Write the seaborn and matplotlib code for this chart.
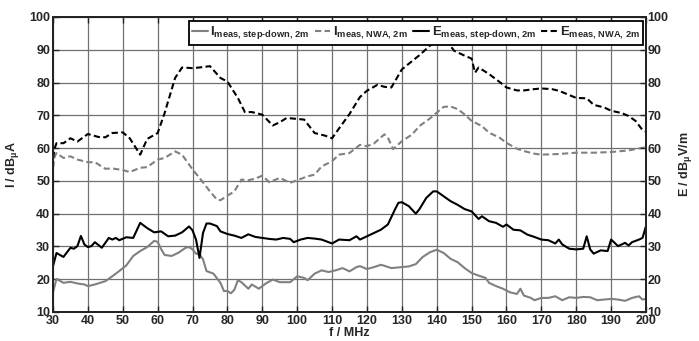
import numpy as np
import pandas as pd
import matplotlib
matplotlib.use("Agg")
import matplotlib.pyplot as plt
import seaborn as sns

# ---- data ----
E_nwa_f = [30, 30.5, 31, 33, 35, 37, 40, 43, 45, 47, 50, 52, 55, 57, 60, 62, 65, 67, 70, 72, 75, 78, 80, 83, 85, 87,
           90, 93, 95, 97, 100, 102, 105, 108, 110, 112, 115, 118, 120, 123, 125, 127, 130, 133, 135, 138, 141, 143,
           145, 148, 150, 151, 152, 155, 158, 160, 163, 165, 168, 170, 173, 175, 178, 180, 183, 185, 188, 190, 193,
           195, 197, 199, 200]
E_nwa_v = [57, 60, 61.5, 61.5, 63, 62, 64.3, 63.4, 63.3, 64.6, 64.8, 63, 58, 62.8, 64.6, 70.7, 81.4, 84.6, 84.4, 84.6,
           85, 81.4, 80.3, 75.3, 71, 71, 70.2, 66.9, 67.9, 69.2, 68.9, 68.7, 64.6, 63.8, 63, 66, 70.4, 75.6, 77.5,
           79.3, 78.7, 78.5, 84, 86.6, 88.3, 91.2, 93.5, 92.5, 89.7, 88.2, 87.3, 83, 84.6, 82.6, 80.2, 78.5, 77.6,
           77.6, 78, 78.2, 78, 77.5, 76.2, 75.3, 75.2, 73.2, 72.4, 71.4, 70.7, 69.8, 68.3, 65.5, 65]

I_nwa_f = [30, 30.5, 31, 33, 35, 37, 40, 42, 45, 47, 50, 52, 55, 57, 60, 62, 65, 67, 70, 72, 75, 77, 78, 80, 82, 84,
           86, 88, 90, 92, 95, 98, 100, 103, 105, 107, 110, 112, 115, 118, 120, 122, 125, 126, 127.5, 130, 133, 135,
           138, 140, 142, 144, 146, 148, 150, 153, 155, 158, 160, 163, 165, 168, 170, 175, 180, 185, 190, 195, 200]
I_nwa_v = [54, 57.5, 58.5, 57, 57.5, 56.5, 55.7, 55.7, 53.7, 53.8, 53.3, 52.7, 54, 54.2, 56.5, 57, 59, 58, 53.5, 50.9,
           46.8, 44.3, 44.1, 45.5, 46.8, 50.4, 50.2, 50.7, 51.6, 49.6, 50.9, 49.4, 50.2, 51.4, 51.9, 54.4, 56, 58,
           58.5, 61, 60.6, 61.4, 64.2, 63.2, 59.7, 62.1, 64.2, 66.7, 69, 70.8, 72.6, 72.7, 71.9, 70.3, 68.3, 66.7,
           64.7, 63.2, 61.6, 59.8, 59.1, 58.3, 58, 58.2, 58.6, 58.6, 58.8, 59.3, 60.3]

E_sd_f = [30, 31, 33, 35, 36, 37, 38, 39, 40, 41, 42, 44, 46, 47, 48, 49, 51, 53, 55, 57, 59, 61, 63, 65, 67, 69, 70,
          71, 72, 73, 74, 75, 77, 78, 80, 82, 84, 86, 88, 90, 92, 94, 96, 98, 99, 101, 103, 105, 107, 110, 112, 115,
          117, 118, 120, 122, 124, 126, 128, 129, 130, 132, 134, 135, 137, 139, 140, 142, 144, 146, 148, 150, 152,
          153, 155, 157, 159, 160, 162, 164, 166, 168, 170, 172, 174, 175, 176, 178, 180, 182, 183, 184, 185, 187,
          189, 190, 192, 194, 195, 196, 198, 199, 200]
E_sd_v = [24, 28, 26.8, 29.6, 29.3, 30.1, 33.2, 30.6, 29.8, 30.1, 31.3, 29.6, 32.6, 32.1, 32.6, 31.9, 32.8, 32.6, 37.2,
          35.6, 34.3, 34.6, 33.1, 33.3, 34.3, 36.1, 34.9, 32.1, 26.5, 34.1, 37, 37, 36.2, 34.6, 33.8, 33.3, 32.6,
          33.7, 32.9, 32.6, 32.3, 32.1, 32.6, 32.3, 31.3, 32.1, 32.6, 32.4, 32.1, 30.9, 32.1, 31.9, 33.1, 32.1,
          33.1, 34.1, 35.1, 36.7, 41.2, 43.3, 43.5, 42.3, 40, 41.3, 44.8, 46.8, 46.8, 45.3, 43.8, 42.7, 41.4, 40.7,
          38.4, 39.2, 37.7, 37.2, 36, 36.7, 35.1, 34.9, 33.6, 32.9, 32.1, 31.9, 30.9, 32.1, 30.6, 29.3, 29.1, 29.3,
          33.1, 29.1, 27.8, 28.8, 28.6, 32.1, 30.1, 31.1, 30.3, 31.3, 32.1, 32.6, 36.2]

I_sd_f = [30, 31, 33, 35, 37, 39, 40, 42, 45, 47, 49, 51, 53, 55, 57, 59, 60, 61, 62, 64, 66, 68, 69, 70, 71, 72, 73,
          74, 76, 78, 79, 80, 81, 82, 83, 84, 86, 87, 89, 91, 93, 95, 98, 100, 102, 103, 105, 107, 109, 111, 113,
          115, 117, 118, 120, 122, 124, 125, 127, 130, 132, 134, 136, 138, 140, 142, 144, 146, 148, 150, 152, 154,
          155, 157, 159, 161, 163, 164, 165, 167, 168, 170, 172, 174, 176, 178, 180, 182, 184, 186, 188, 190, 192,
          194, 196, 198, 199, 200]
I_sd_v = [16, 20.1, 18.9, 19.2, 18.7, 18.4, 17.9, 18.4, 19.4, 20.9, 22.5, 24.2, 27.1, 28.6, 29.8, 31.7, 31.4, 29.2,
          27.4, 27.1, 28.1, 29.6, 29.8, 29.1, 27.8, 27.6, 26.1, 22.5, 21.7, 18.9, 16.4, 16.4, 15.7, 16.8, 19.7,
          19.1, 17.1, 18.4, 17.1, 18.7, 19.9, 19.1, 19.1, 20.9, 20.4, 19.7, 21.7, 22.7, 22.2, 22.7, 23.4, 22.4,
          23.7, 24, 23.1, 23.7, 24.4, 24.1, 23.4, 23.7, 23.9, 24.6, 26.8, 28.2, 29, 28, 26.2, 25.2, 23.4, 21.9,
          21.1, 20.4, 18.9, 17.9, 17.1, 16, 15.5, 17.1, 15, 14.3, 13.6, 14.3, 14.3, 14.8, 13.6, 14.5, 14.3, 14.6,
          14.5, 13.6, 13.8, 14, 13.8, 13.4, 14.3, 14.8, 13.8, 14]

labels = [r"I$_{\text{meas, step-down, 2m}}$", r"I$_{\text{meas, NWA, 2m}}$",
          r"E$_{\text{meas, step-down, 2m}}$", r"E$_{\text{meas, NWA, 2m}}$"]
x_ticks = list(range(30, 201, 10))
y_ticks = list(range(10, 101, 10))

# ---- style ----
sns.set_style("white")
plt.rcParams["font.family"] = ["Liberation Sans", "DejaVu Sans"]
plt.rcParams["font.weight"] = "bold"
plt.rcParams["mathtext.fontset"] = "custom"
plt.rcParams["mathtext.rm"] = "Liberation Sans:bold"
plt.rcParams["mathtext.it"] = "Liberation Sans:bold"
plt.rcParams["mathtext.bf"] = "Liberation Sans:bold"

fig = plt.figure(figsize=(6.99, 3.41), dpi=100)
ax = fig.add_axes([53 / 699, 29 / 341, (646 - 53) / 699, (312 - 17) / 341])

grey = "#808080"
series = [(I_sd_f, I_sd_v, grey, "-"), (I_nwa_f, I_nwa_v, grey, (0, (3, 1.6))),
          (E_sd_f, E_sd_v, "black", "-"), (E_nwa_f, E_nwa_v, "black", (0, (3, 1.6)))]
handles = []
for (f, v, c, ls), lab in zip(series, labels):
    sns.lineplot(x=f, y=v, ax=ax, color=c, linewidth=1.5, label=lab)
    line = ax.get_lines()[-1]
    line.set_linestyle(ls)
    handles.append(line)

ax.set_xlim(30, 200)
ax.set_ylim(10, 100)
ax.set_xticks(x_ticks)
ax.set_yticks(y_ticks)
ax.grid(True, color="#707070", linewidth=0.9)
ax.tick_params(direction="in", length=4, width=1, labelsize=9, pad=2,
               top=True, right=False, bottom=True, left=True)
for lab in ax.get_xticklabels() + ax.get_yticklabels():
    lab.set_fontweight("bold")
for s in ax.spines.values():
    s.set_linewidth(1.3)
    s.set_color("black")
ax.set_xlabel("f / MHz", fontsize=9, fontweight="bold", labelpad=0)
ax.set_ylabel(r"I / dB$_{\mu}$A", fontsize=9, fontweight="bold", labelpad=6)

ax2 = ax.twinx()
ax2.set_ylim(10, 100)
ax2.set_yticks(y_ticks)
ax2.tick_params(direction="in", length=4, width=1, labelsize=9, pad=1)
for lab in ax2.get_yticklabels():
    lab.set_fontweight("bold")
ax2.set_ylabel(r"E / dB$_{\mu}$V/m", fontsize=9, fontweight="bold", labelpad=6)
for s in ax2.spines.values():
    s.set_linewidth(1.3)

ax.get_legend().remove()
leg = ax2.legend(handles, labels, ncol=4, loc="upper right",
                 bbox_to_anchor=(643 / 699, 1 - 21 / 341), bbox_transform=fig.transFigure,
                 fontsize=9.5, handlelength=1.2, handletextpad=0.2, columnspacing=0.4,
                 borderpad=0.25, borderaxespad=0, frameon=True, fancybox=False,
                 framealpha=1, edgecolor="black")
leg.get_frame().set_linewidth(1.3)
for t in leg.get_texts():
    t.set_fontweight("bold")

fig.savefig("out.png", dpi=100)
